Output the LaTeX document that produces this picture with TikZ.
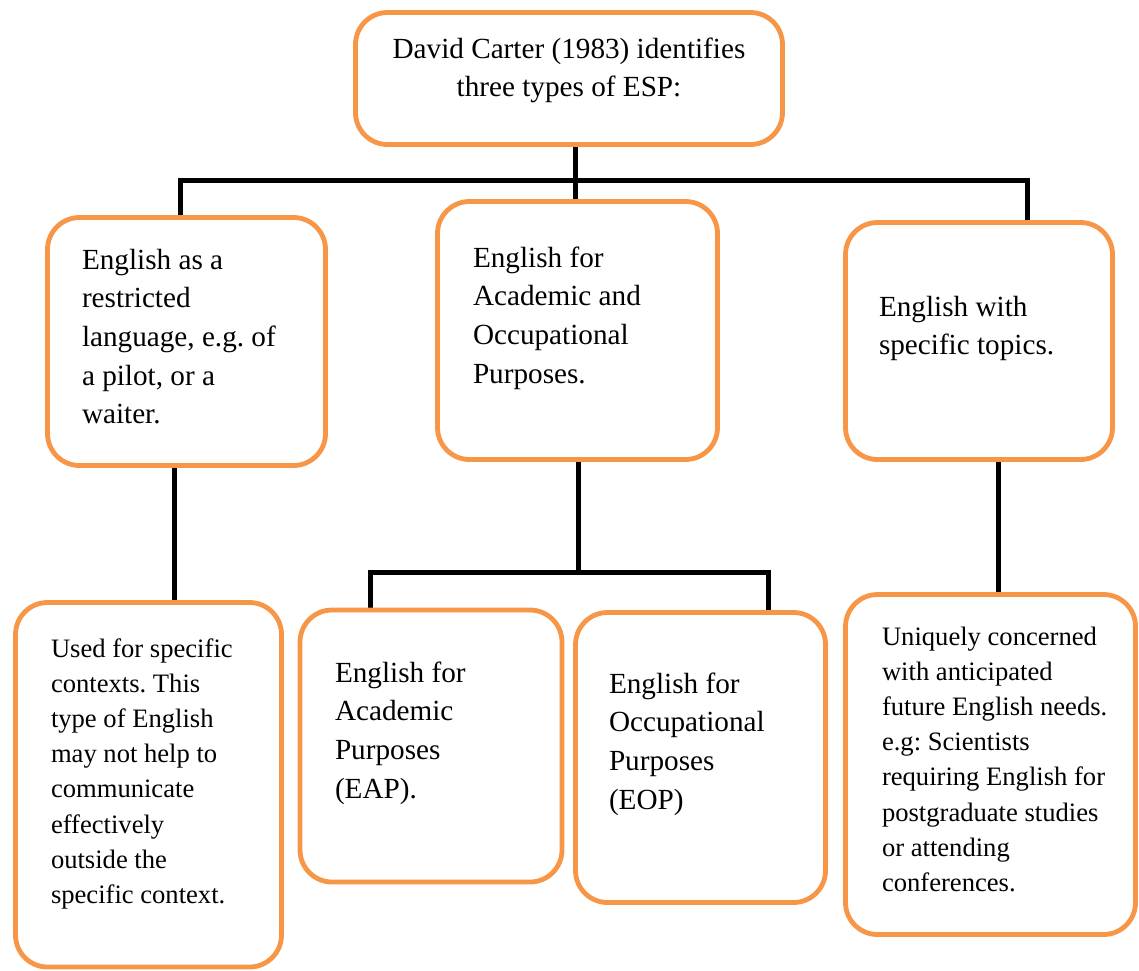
\documentclass[tikz,border=0pt]{standalone}
\usepackage{fontspec}
\setmainfont{Liberation Serif}
\usetikzlibrary{backgrounds}
\definecolor{boxorange}{HTML}{F79646}
\newcommand\mainsz{\fontsize{29.2}{38.7}\selectfont\frenchspacing}
\newcommand\notesz{\fontsize{26.6}{35.2}\selectfont\frenchspacing}
\tikzset{
  box/.style={draw=boxorange, line width=4.8pt, rounded corners=32pt,
    fill=white, inner sep=0pt, outer sep=0pt, anchor=north west},
  link/.style={draw=black, line width=5pt},
  txt/.style={inner sep=0pt, outer sep=0pt, anchor=base west},
}
\begin{document}
\begin{tikzpicture}[x=1pt, y=-1pt]
\useasboundingbox (0,0) rectangle (1139,970);

% boxes (corner at the middle of the border line)
\node[box, minimum width=427pt, minimum height=132pt] (T) at (355.5,12.5) {};
\node[box, minimum width=278pt, minimum height=248pt] (A) at (47.5,217.5) {};
\node[box, minimum width=280pt, minimum height=258pt] (B) at (437.5,201.5) {};
\node[box, minimum width=267pt, minimum height=237pt] (C) at (845.5,222.5) {};
\node[box, minimum width=266pt, minimum height=364.5pt] (D) at (15.5,602.5) {};
\node[box, minimum width=262pt, minimum height=272pt] (E) at (300,610) {};
\node[box, minimum width=250pt, minimum height=290pt] (F) at (575.5,612.5) {};
\node[box, minimum width=290pt, minimum height=340pt] (G) at (845.5,594.5) {};

% texts
\node[inner sep=0pt, anchor=base] (Tt) at (569,58)
  {\parbox[t]{420pt}{\mainsz\centering David Carter (1983) identifies\\three types of ESP:}};
\node[txt] (At) at (82,269)
  {\parbox[t]{300pt}{\mainsz\raggedright English as a\\restricted\\language, e.g. of\\a pilot, or a\\waiter.}};
\node[txt] (Bt) at (473,267)
  {\parbox[t]{300pt}{\mainsz\raggedright English for\\Academic and\\Occupational\\Purposes.}};
\node[txt] (Ct) at (879,316)
  {\parbox[t]{300pt}{\mainsz\raggedright English with\\specific topics.}};
\node[txt] (Dt) at (51,657)
  {\parbox[t]{280pt}{\notesz\raggedright Used for specific\\contexts. This\\type of English\\may not help to\\communicate\\effectively\\outside the\\specific context.}};
\node[txt] (Et) at (335,682)
  {\parbox[t]{280pt}{\mainsz\raggedright English for\\Academic\\Purposes\\(EAP).}};
\node[txt] (Ft) at (609,693)
  {\parbox[t]{280pt}{\mainsz\raggedright English for\\Occupational\\Purposes\\(EOP)}};
\node[txt] (Gt) at (882,645)
  {\parbox[t]{280pt}{\notesz\raggedright Uniquely concerned\\with anticipated\\future English needs.\\e.g: Scientists\\requiring English for\\postgraduate studies\\or attending\\conferences.}};

% junctions and drop positions of the connectors
\coordinate (J1) at (575,180);
\coordinate (J2) at (578,572);
\coordinate (xA) at (180,0);
\coordinate (xC) at (1027,0);
\coordinate (xAD) at (174,0);
\coordinate (xE) at (370,0);
\coordinate (xF) at (768,0);
\coordinate (xCG) at (998,0);

\begin{scope}[on background layer]
  \draw[link] (T.south -| J1) -- (B.north -| J1);
  \draw[link] (A.north -| xA) |- (J1) -| (C.north -| xC);
  \draw[link] (A.south -| xAD) -- (D.north -| xAD);
  \draw[link] (B.south -| J2) -- (J2);
  \draw[link] (E.north -| xE) |- (J2) -| (F.north -| xF);
  \draw[link] (C.south -| xCG) -- (G.north -| xCG);
\end{scope}
\end{tikzpicture}
\end{document}
